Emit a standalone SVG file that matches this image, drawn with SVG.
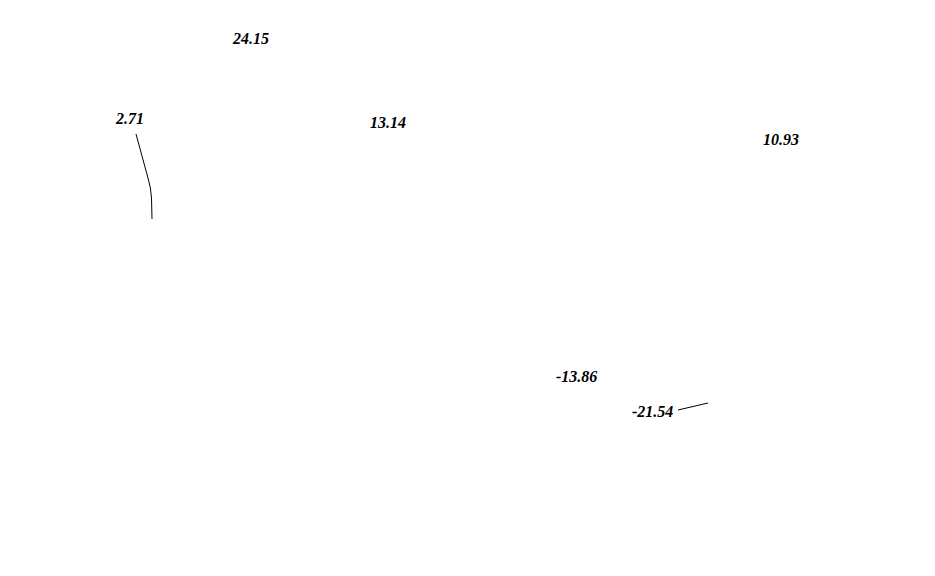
<svg xmlns="http://www.w3.org/2000/svg" width="935" height="576" viewBox="0 0 935 576">
<style>
.lbl{font-family:"Liberation Serif","Times New Roman",serif;font-size:16px;font-style:italic;font-weight:bold;fill:#000}
.ln{fill:none;stroke:#000;stroke-width:1}
</style>
<rect width="935" height="576" fill="#fff"/>
<g id="connectors">
<path class="ln" d="M136,134 L148,178 Q151,188 151.5,198 L152,219"/>
<path class="ln" d="M678,410 L708,403"/>
</g>
<g id="n1"><text class="lbl" x="233" y="44">24.15</text></g>
<g id="n2"><text class="lbl" x="116" y="124">2.71</text></g>
<g id="n3"><text class="lbl" x="370" y="128">13.14</text></g>
<g id="n4"><text class="lbl" x="763" y="145">10.93</text></g>
<g id="n5"><text class="lbl" x="556" y="382">-13.86</text></g>
<g id="n6"><text class="lbl" x="632" y="417">-21.54</text></g>
</svg>
